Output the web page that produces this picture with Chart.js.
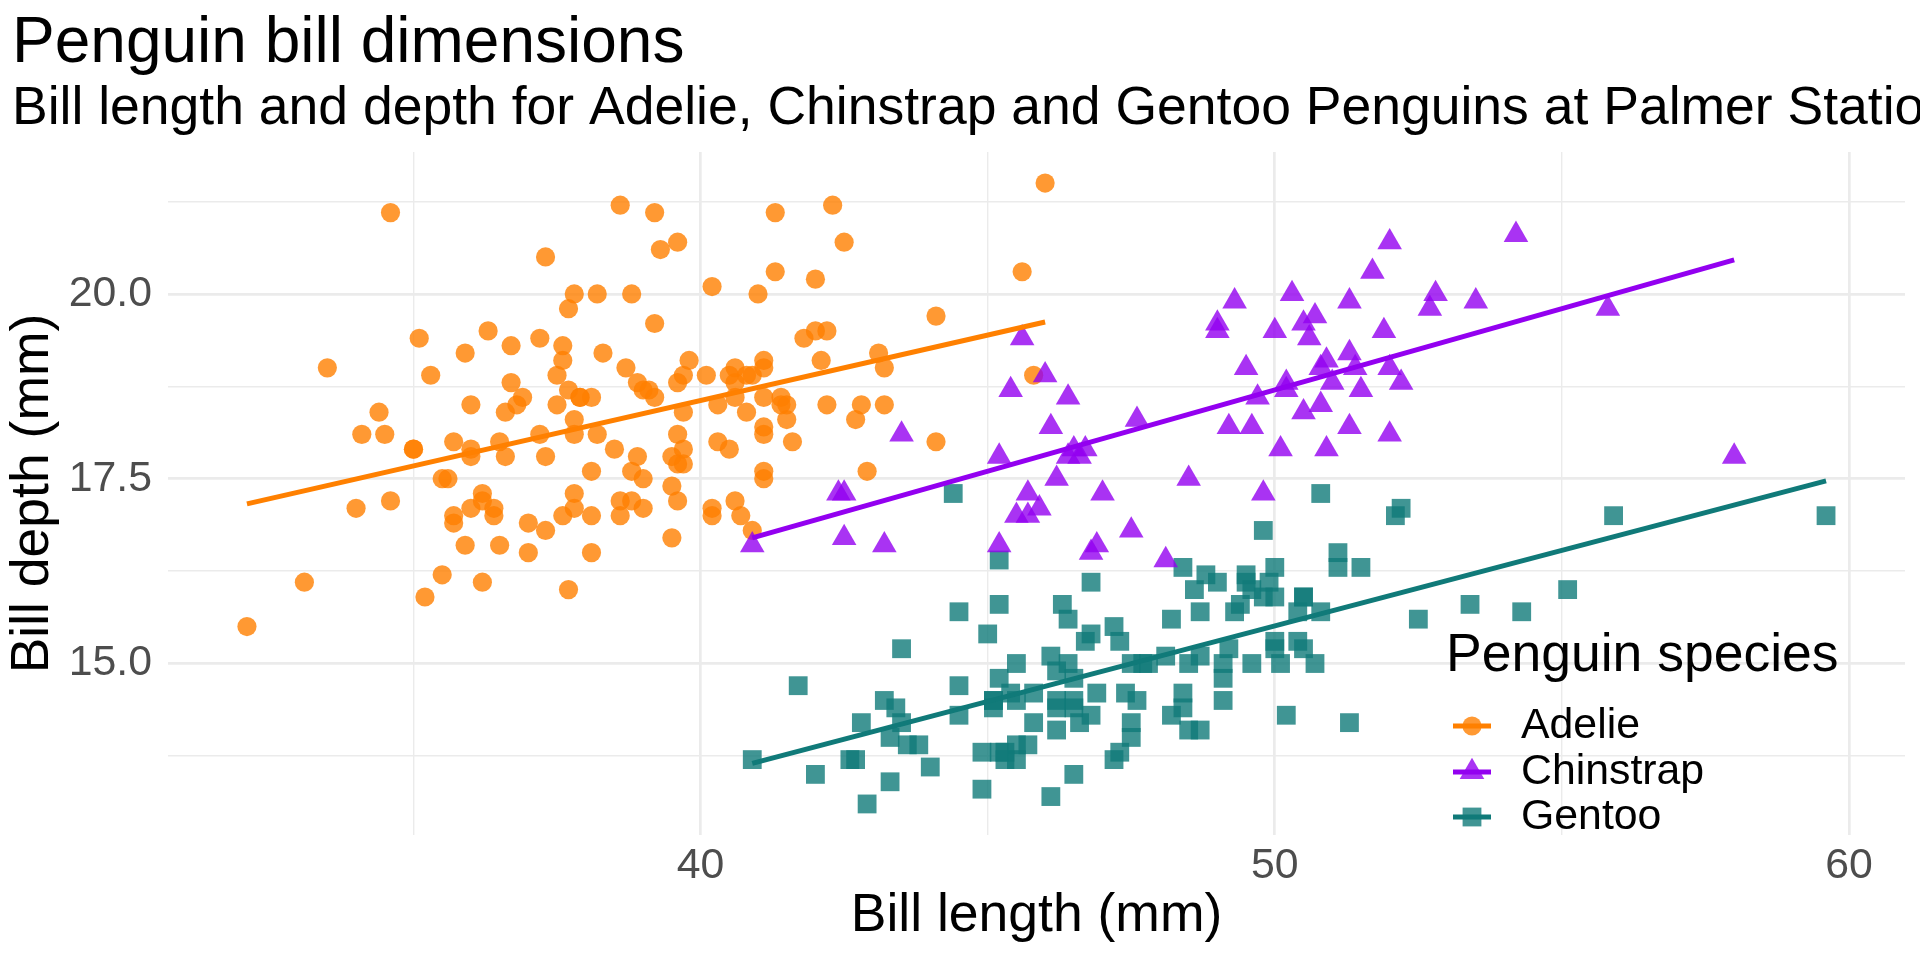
<!DOCTYPE html>
<html>
<head>
<meta charset="utf-8">
<script src="https://cdn.jsdelivr.net/npm/chart.js@4/dist/chart.umd.min.js"></script>
<style>
html,body{margin:0;padding:0;background:#ffffff;}
#wrap{width:1920px;height:960px;position:relative;}
</style>
</head>
<body>
<div id="wrap"><canvas id="c"></canvas></div>
<script>
// ---------- text ----------
const titleText = 'Penguin bill dimensions';
const subtitleText = 'Bill length and depth for Adelie, Chinstrap and Gentoo Penguins at Palmer Station';
const xAxisTitle = 'Bill length (mm)';
const yAxisTitle = 'Bill depth (mm)';
const legendTitle = 'Penguin species';
const species = ['Adelie', 'Chinstrap', 'Gentoo'];

// ---------- ticks ----------
const xMajorTicks = [40, 50, 60];
const xMinorTicks = [35, 45, 55];
const yMajorTicks = [15.0, 17.5, 20.0];
const yMinorTicks = [13.75, 16.25, 18.75, 21.25];
const xLimits = [30.725, 60.975];
const yLimits = [12.68, 21.92];

// ---------- data: bill length (mm) / bill depth (mm) ----------
const adelieLength = [39.1,39.5,40.3,36.7,39.3,38.9,39.2,34.1,42.0,37.8,
37.8,41.1,38.6,34.6,36.6,38.7,42.5,34.4,46.0,37.8,
37.7,35.9,38.2,38.8,35.3,40.6,40.5,37.9,40.5,39.5,
37.2,39.5,40.9,36.4,39.2,38.8,42.2,37.6,39.8,36.5,
40.8,36.0,44.1,37.0,39.6,41.1,37.5,36.0,42.3,39.6,
40.1,35.0,42.0,34.5,41.4,39.0,40.6,36.5,37.6,35.7,
41.3,37.6,41.1,36.4,41.6,35.5,41.1,35.9,41.8,33.5,
39.7,39.6,45.8,35.5,42.8,40.9,37.2,36.2,42.1,34.6,
42.9,36.7,35.1,37.3,41.3,36.3,36.9,38.3,38.9,35.7,
41.1,34.0,39.6,36.2,40.8,38.1,40.3,33.1,43.2,35.0,
41.0,37.7,37.8,37.9,39.7,38.6,38.2,38.1,43.2,38.1,
45.6,39.7,42.2,39.6,42.7,38.6,37.3,35.7,41.1,36.2,
37.7,40.2,41.4,35.2,40.6,38.8,41.5,39.0,44.1,38.5,
43.1,36.8,37.5,38.1,41.1,35.6,40.2,37.0,39.7,40.2,
40.6,32.1,40.7,37.3,39.0,39.2,36.6,36.0,37.8,36.0,
41.5];
const adelieDepth = [18.7,17.4,18.0,19.3,20.6,17.8,19.6,18.1,20.2,17.1,
17.3,17.6,21.2,21.1,17.8,19.0,20.7,18.4,21.5,18.3,
18.7,19.2,18.1,17.2,18.9,18.6,17.9,18.6,18.9,16.7,
18.1,17.8,18.9,17.0,21.1,20.0,18.5,19.3,19.1,18.0,
18.4,18.5,19.7,16.9,18.8,19.0,18.9,17.9,21.2,17.7,
18.9,17.9,19.5,18.1,18.6,17.5,18.8,16.6,19.1,16.9,
21.1,17.0,18.2,17.1,18.0,16.2,19.1,16.6,19.4,19.0,
18.4,17.2,18.9,17.5,18.5,16.8,19.4,16.1,19.1,17.2,
17.6,18.8,19.4,17.8,20.3,19.5,18.6,19.2,18.8,18.0,
18.1,17.1,18.1,17.3,18.9,18.6,18.5,16.1,18.5,17.9,
20.0,16.0,20.0,18.6,18.9,17.2,20.0,17.0,19.0,16.5,
20.3,17.7,19.5,20.7,18.3,17.0,20.5,17.0,18.6,17.2,
19.8,17.0,18.5,15.9,19.0,17.6,18.3,17.1,18.0,17.9,
19.2,18.5,18.5,17.6,17.5,17.5,20.1,16.5,17.9,17.1,
17.2,15.5,17.0,16.8,18.7,18.6,18.4,17.8,18.1,17.1,
18.5];

const gentooLength = [46.1,50.0,48.7,50.0,47.6,46.5,45.4,46.7,43.3,46.8,
40.9,49.0,45.5,48.4,45.8,49.3,42.0,49.2,46.2,48.7,
50.2,45.1,46.5,46.3,42.9,46.1,44.5,47.8,48.2,50.0,
47.3,42.8,45.1,59.6,49.1,48.4,42.6,44.4,44.0,48.7,
42.7,49.6,45.3,49.6,50.5,43.6,45.5,50.5,44.9,45.2,
46.6,48.5,45.1,50.1,46.5,45.0,43.8,45.5,43.2,50.4,
45.3,46.2,45.7,54.3,45.8,49.8,46.2,49.5,43.5,50.7,
47.7,46.4,48.2,46.5,46.4,48.6,47.5,51.1,45.2,45.2,
49.1,52.5,47.4,50.0,44.9,50.8,43.4,51.3,47.5,52.1,
47.5,52.2,45.5,49.5,44.5,50.8,49.4,46.9,48.4,51.1,
48.5,55.9,47.2,49.1,47.3,46.8,41.7,53.4,43.3,48.1,
50.5,49.8,43.5,51.5,46.2,55.1,44.5,48.8,47.2,46.8,
50.4,45.2,49.9];
const gentooDepth = [13.2,16.3,14.1,15.2,14.5,13.5,14.6,15.3,13.4,15.4,
13.7,16.1,13.7,14.6,14.6,15.7,13.5,15.2,14.5,15.1,
14.3,14.5,14.5,15.8,13.1,15.1,14.3,15.0,14.3,15.3,
15.3,14.2,14.5,17.0,14.8,16.3,13.7,17.3,13.6,15.7,
13.7,16.0,13.7,15.0,15.9,13.9,13.9,15.9,13.3,15.8,
14.2,14.1,14.4,15.0,14.4,15.4,13.9,15.0,14.5,15.3,
13.8,14.9,13.9,15.7,14.2,16.8,14.4,16.2,14.2,15.0,
15.0,15.6,15.6,14.8,15.0,16.0,14.2,16.3,13.8,16.4,
14.5,15.6,14.6,15.9,13.8,17.3,14.4,14.2,14.0,17.0,
15.0,17.1,14.5,16.1,14.7,15.7,15.8,14.6,14.4,16.5,
15.0,17.0,15.5,15.0,13.8,16.1,14.7,15.8,14.0,15.1,
15.2,15.9,15.2,16.3,14.1,16.0,15.7,16.2,13.7,14.3,
15.7,14.8,16.1];

const chinstrapLength = [46.5,50.0,51.3,45.4,52.7,45.2,46.1,51.3,46.0,51.3,
46.6,51.7,47.0,52.0,45.9,50.5,50.3,58.0,46.4,49.2,
42.4,48.5,43.2,50.6,46.7,52.0,50.5,49.5,46.4,52.8,
40.9,54.2,42.5,51.0,49.7,47.5,47.6,52.0,46.9,53.5,
49.0,46.2,50.9,45.5,50.9,50.8,50.1,49.0,51.5,49.8,
48.1,51.4,45.7,50.7,42.5,52.2,45.2,49.3,50.2,45.6,
51.9,46.8,45.7,55.8,43.5,49.6,50.8,50.2];
const chinstrapDepth = [17.9,19.5,19.2,18.7,19.8,17.8,18.2,18.2,18.9,19.9,
17.8,20.3,17.3,18.1,17.1,19.6,20.0,17.8,18.6,18.2,
17.3,17.5,16.6,19.4,17.9,19.0,18.4,19.0,17.8,20.0,
16.6,20.8,16.7,18.8,18.6,16.8,18.3,20.7,16.6,19.9,
19.5,17.5,19.1,17.0,17.9,18.5,17.9,19.6,18.7,17.3,
16.4,19.0,17.3,19.7,17.3,18.8,16.6,19.9,18.8,19.4,
19.5,16.5,17.0,19.8,18.1,18.2,19.0,18.7];

// linear-fit lines (end points)
const adelieFitX = [32.1, 46.0];
const adelieFitY = [17.16, 19.62];
const chinstrapFitX = [40.9, 58.0];
const chinstrapFitY = [16.70, 20.46];
const gentooFitX = [40.9, 59.6];
const gentooFitY = [13.65, 17.47];

// ---------- styles ----------
const FONT = '"Liberation Sans", Arial, Helvetica, sans-serif';
const styles = {
  Adelie:    {line: 'rgb(255,128,0)',  fill: 'rgba(255,128,0,0.8)',  shape: 'circle',   r: 9.6},
  Chinstrap: {line: 'rgb(147,0,240)',  fill: 'rgba(147,0,240,0.8)',  shape: 'triangle', r: 14.2},
  Gentoo:    {line: 'rgb(16,122,121)', fill: 'rgba(16,122,121,0.8)', shape: 'rect',     r: 13.3}
};

function pts(xs, ys) { return xs.map((x, i) => ({x: x, y: ys[i]})); }

function scatterSet(name, xs, ys, order) {
  const s = styles[name];
  return {
    type: 'scatter', label: name, data: pts(xs, ys), order: order,
    pointStyle: s.shape, pointRadius: s.r, pointHoverRadius: s.r,
    pointBackgroundColor: s.fill, pointBorderWidth: 0, borderColor: 'rgba(0,0,0,0)',
    showLine: false
  };
}
function lineSet(name, xs, ys) {
  const s = styles[name];
  return {
    type: 'line', label: name + ' fit', data: pts(xs, ys), order: 0,
    borderColor: s.line, borderWidth: 5, pointRadius: 0, fill: false,
    tension: 0, borderCapStyle: 'butt'
  };
}

function drawShape(ctx, shape, x, y, r, color) {
  ctx.save();
  ctx.fillStyle = color;
  ctx.beginPath();
  if (shape === 'circle') {
    ctx.arc(x, y, r, 0, Math.PI * 2);
  } else if (shape === 'rect') {
    const h = r / Math.SQRT2;
    ctx.rect(x - h, y - h, 2 * h, 2 * h);
  } else if (shape === 'triangle') {
    for (let k = 0; k < 3; k++) {
      const a = -Math.PI / 2 + k * 2 * Math.PI / 3;
      const px = x + Math.cos(a) * r, py = y + Math.sin(a) * r;
      if (k === 0) ctx.moveTo(px, py); else ctx.lineTo(px, py);
    }
    ctx.closePath();
  }
  ctx.fill();
  ctx.restore();
}

const titlesPlugin = {
  id: 'ggTitles',
  afterDraw(chart) {
    const ctx = chart.ctx;
    ctx.save();
    ctx.fillStyle = '#000000';
    ctx.textAlign = 'left';
    ctx.textBaseline = 'alphabetic';
    ctx.font = '64px ' + FONT;
    ctx.fillText(titleText, 12, 62);
    ctx.font = '53.5px ' + FONT;
    ctx.fillText(subtitleText, 12, 124);
    ctx.restore();
  }
};

const legendPlugin = {
  id: 'ggLegend',
  afterDraw(chart) {
    const ctx = chart.ctx;
    ctx.save();
    ctx.fillStyle = '#000000';
    ctx.textAlign = 'left';
    ctx.textBaseline = 'alphabetic';
    ctx.font = '53.5px ' + FONT;
    ctx.fillText(legendTitle, 1446, 671);
    const rows = [726, 772, 817];
    species.forEach((name, i) => {
      const s = styles[name];
      const cy = rows[i];
      drawShape(ctx, s.shape, 1472, cy, s.r, s.fill);
      ctx.strokeStyle = s.line;
      ctx.lineWidth = 5;
      ctx.beginPath();
      ctx.moveTo(1453, cy);
      ctx.lineTo(1491, cy);
      ctx.stroke();
      ctx.fillStyle = '#000000';
      ctx.font = '42.8px ' + FONT;
      ctx.textBaseline = 'middle';
      ctx.fillText(name, 1521, cy);
    });
    ctx.restore();
  }
};

const xTicksAll = xMinorTicks.concat(xMajorTicks).sort((a, b) => a - b);
const yTicksAll = yMinorTicks.concat(yMajorTicks).sort((a, b) => a - b);

new Chart(document.getElementById('c'), {
  type: 'scatter',
  data: {
    datasets: [
      lineSet('Adelie', adelieFitX, adelieFitY),
      lineSet('Chinstrap', chinstrapFitX, chinstrapFitY),
      lineSet('Gentoo', gentooFitX, gentooFitY),
      scatterSet('Chinstrap', chinstrapLength, chinstrapDepth, 1),
      scatterSet('Gentoo', gentooLength, gentooDepth, 2),
      scatterSet('Adelie', adelieLength, adelieDepth, 3)
    ]
  },
  options: {
    responsive: true,
    maintainAspectRatio: false,
    animation: false,
    events: [],
    layout: {padding: {top: 152, right: 15, bottom: 0, left: 0}},
    plugins: {
      legend: {display: false},
      tooltip: {enabled: false},
      title: {display: false}
    },
    scales: {
      x: {
        type: 'linear', min: xLimits[0], max: xLimits[1],
        afterBuildTicks: (scale) => { scale.ticks = xTicksAll.map(v => ({value: v})); },
        afterFit: (scale) => { scale.height = 125; },
        grid: {
          color: '#EBEBEB',
          lineWidth: (c) => (c.tick && xMajorTicks.includes(c.tick.value)) ? 2.7 : 1.4,
          drawTicks: false
        },
        border: {display: false},
        ticks: {
          autoSkip: false, maxRotation: 0, padding: 6,
          color: '#4D4D4D', font: {family: FONT, size: 42.8},
          callback: (v) => xMajorTicks.includes(v) ? String(v) : ''
        },
        title: {
          display: true, text: xAxisTitle, color: '#000000',
          font: {family: FONT, size: 53.5, lineHeight: 1.2},
          padding: {top: 0, bottom: 11.4}
        }
      },
      y: {
        type: 'linear', min: yLimits[0], max: yLimits[1],
        afterBuildTicks: (scale) => { scale.ticks = yTicksAll.map(v => ({value: v})); },
        afterFit: (scale) => { scale.width = 168; },
        grid: {
          color: '#EBEBEB',
          lineWidth: (c) => (c.tick && yMajorTicks.includes(c.tick.value)) ? 2.7 : 1.4,
          drawTicks: false
        },
        border: {display: false},
        ticks: {
          autoSkip: false, padding: 16,
          color: '#4D4D4D', font: {family: FONT, size: 42.8},
          callback: (v) => yMajorTicks.includes(v) ? v.toFixed(1) : ''
        },
        title: {
          display: true, text: yAxisTitle, color: '#000000',
          font: {family: FONT, size: 53.5, lineHeight: 1.2},
          padding: {top: 1.4, bottom: 0}
        }
      }
    }
  },
  plugins: [titlesPlugin, legendPlugin]
});
</script>
</body>
</html>
